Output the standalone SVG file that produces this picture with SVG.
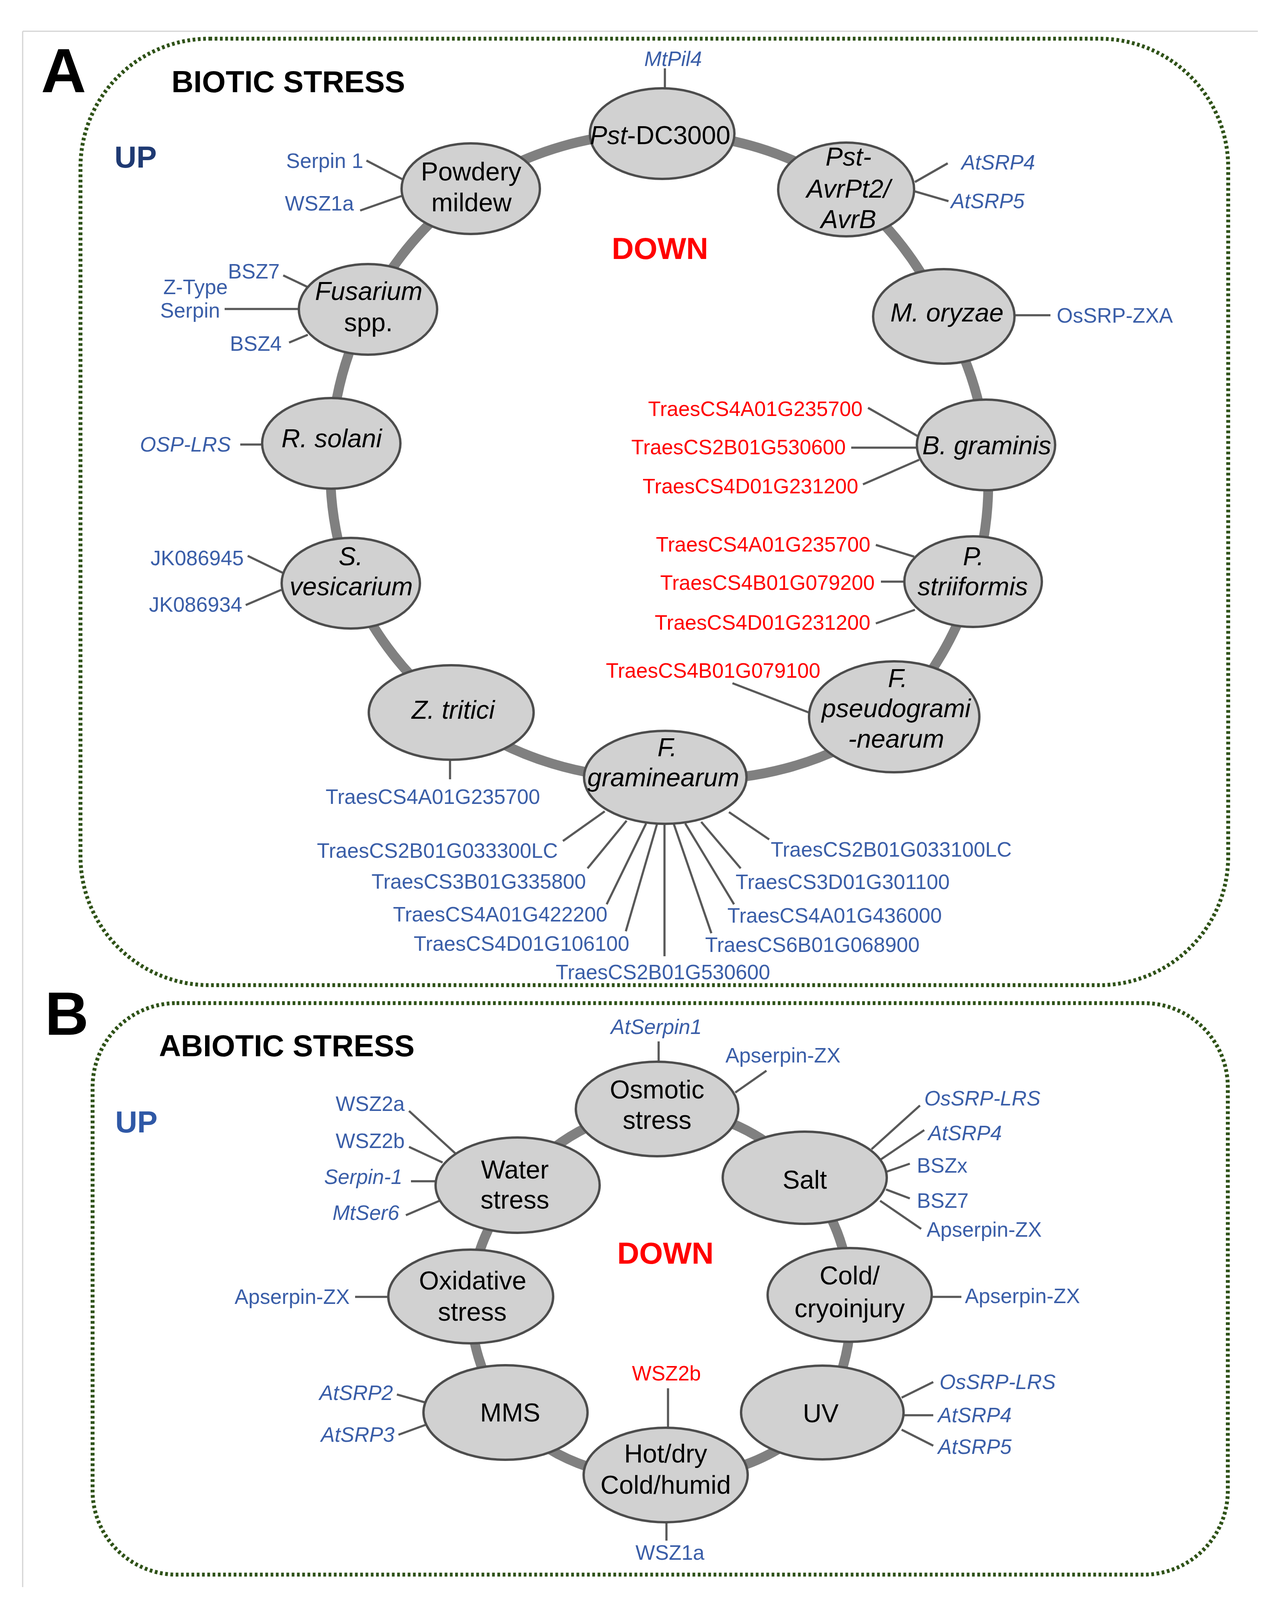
<svg xmlns="http://www.w3.org/2000/svg" width="3251" height="4117" viewBox="0 0 3251 4117">
<style>
text{font-family:"Liberation Sans",Arial,sans-serif}
.frame{fill:none;stroke:#d4d4d4;stroke-width:3}
.panel{fill:none;stroke:#2f5218;stroke-width:10;stroke-dasharray:7 6.5}
.ring{fill:none;stroke:#808080;stroke-width:25}
.node ellipse{fill:#d1d1d1;stroke:#4d4d4d;stroke-width:6}
.nt{font-size:66px;fill:#000;text-anchor:middle}
.it{font-style:italic}
.lk line{stroke:#595959;stroke-width:5.5}
.g{font-size:53px;fill:#3a5ea8}
.r{font-size:53px;fill:#ff0000}
.e{text-anchor:end}
.m{text-anchor:middle}
.big{font-size:160px;font-weight:bold;fill:#000}
.title{font-size:78px;font-weight:bold;fill:#000}
.up{font-size:78px;font-weight:bold}
.down{font-size:78px;font-weight:bold;fill:#ff0000}
</style>
<rect width="3251" height="4117" fill="#ffffff"/>
<g id="frame">
<line class="frame" x1="58" y1="80" x2="3220" y2="80"/>
<line class="frame" x1="58" y1="80" x2="58" y2="4063"/>
</g>
<g id="panel-a-border"><rect class="panel" x="206" y="99" width="2938" height="2423" rx="330" ry="330"/></g>
<g id="panel-b-border"><rect class="panel" x="237" y="2568" width="2906" height="1463" rx="215" ry="215"/></g>
<g id="headings">
<text class="big" x="105" y="236">A</text>
<text class="title" x="439" y="236">BIOTIC STRESS</text>
<text class="up" x="293" y="429" fill="#1f3a73">UP</text>
<text class="down" x="1566" y="663">DOWN</text>
<text class="big" x="115" y="2649" style="font-size:155px">B</text>
<text class="title" x="407" y="2704">ABIOTIC STRESS</text>
<text class="up" x="295" y="2899" fill="#2f58a6">UP</text>
<text class="down" x="1580" y="3235">DOWN</text>
</g>
<g id="connectors">
<path class="ring" d="M1695,342 A840,840 0 0 1 2166,485 A840,840 0 0 1 2416,810 A840,840 0 0 1 2524,1139 A840,840 0 0 1 2491,1489 A840,840 0 0 1 2289,1835 A840,840 0 0 1 1703,1990 A840,840 0 0 1 1155,1824 A840,840 0 0 1 898,1493 A840,840 0 0 1 848,1135 A840,840 0 0 1 942,792 A840,840 0 0 1 1205,483 A840,840 0 0 1 1695,342 Z"/>
<path class="ring" d="M1682,2839 A480,480 0 0 1 2060,3015 A480,480 0 0 1 2175,3315 A480,480 0 0 1 2105,3616 A480,480 0 0 1 1704,3776 A480,480 0 0 1 1294,3616 A480,480 0 0 1 1205,3319 A480,480 0 0 1 1325,3034 A480,480 0 0 1 1682,2839 Z"/>
<g class="lk">
<line x1="1702" y1="175" x2="1702" y2="226"/>
<line x1="2426" y1="418" x2="2342" y2="466"/>
<line x1="2342" y1="490" x2="2428" y2="515"/>
<line x1="2597" y1="807" x2="2689" y2="807"/>
<line x1="938" y1="411" x2="1032" y2="460"/>
<line x1="922" y1="539" x2="1030" y2="501"/>
<line x1="725" y1="705" x2="788" y2="735"/>
<line x1="575" y1="791" x2="765" y2="791"/>
<line x1="740" y1="877" x2="788" y2="857"/>
<line x1="615" y1="1138" x2="671" y2="1138"/>
<line x1="634" y1="1423" x2="725" y2="1467"/>
<line x1="629" y1="1549" x2="720" y2="1510"/>
<line x1="2222" y1="1044" x2="2350" y2="1117"/>
<line x1="2179" y1="1146" x2="2347" y2="1146"/>
<line x1="2209" y1="1240" x2="2353" y2="1177"/>
<line x1="2242" y1="1395" x2="2340" y2="1425"/>
<line x1="2255" y1="1489" x2="2315" y2="1489"/>
<line x1="2242" y1="1596" x2="2342" y2="1561"/>
<line x1="1875" y1="1749" x2="2073" y2="1825"/>
<line x1="1152" y1="1945" x2="1152" y2="1995"/>
<line x1="1441" y1="2153" x2="1548" y2="2077"/>
<line x1="1504" y1="2223" x2="1604" y2="2101"/>
<line x1="1553" y1="2315" x2="1654" y2="2108"/>
<line x1="1602" y1="2384" x2="1682" y2="2109"/>
<line x1="1701" y1="2448" x2="1701" y2="2112"/>
<line x1="1821" y1="2389" x2="1725" y2="2110"/>
<line x1="1879" y1="2315" x2="1754" y2="2108"/>
<line x1="1896" y1="2223" x2="1795" y2="2104"/>
<line x1="1969" y1="2149" x2="1866" y2="2079"/>
<line x1="1686" y1="2666" x2="1686" y2="2718"/>
<line x1="1962" y1="2741" x2="1882" y2="2797"/>
<line x1="1047" y1="2844" x2="1166" y2="2953"/>
<line x1="1047" y1="2936" x2="1133" y2="2976"/>
<line x1="1052" y1="3024" x2="1117" y2="3024"/>
<line x1="1039" y1="3111" x2="1125" y2="3074"/>
<line x1="909" y1="3320" x2="996" y2="3320"/>
<line x1="2355" y1="2830" x2="2231" y2="2942"/>
<line x1="2366" y1="2893" x2="2255" y2="2968"/>
<line x1="2329" y1="2979" x2="2268" y2="3000"/>
<line x1="2329" y1="3068" x2="2268" y2="3045"/>
<line x1="2358" y1="3146" x2="2253" y2="3074"/>
<line x1="2383" y1="3320" x2="2461" y2="3320"/>
<line x1="1710" y1="3554" x2="1710" y2="3656"/>
<line x1="1016" y1="3570" x2="1091" y2="3591"/>
<line x1="1020" y1="3673" x2="1091" y2="3647"/>
<line x1="2389" y1="3538" x2="2308" y2="3578"/>
<line x1="2313" y1="3623" x2="2389" y2="3623"/>
<line x1="2308" y1="3660" x2="2389" y2="3701"/>
<line x1="1706" y1="3897" x2="1706" y2="3944"/>
</g>
</g>
<g id="node-pst-dc3000" class="node"><ellipse cx="1695" cy="342" rx="185" ry="116"/><text class="nt" x="1690" y="369"><tspan class="it">Pst</tspan>-DC3000</text></g>
<g id="node-pst-avr" class="node"><ellipse cx="2166" cy="485" rx="174" ry="120"/><text class="nt it" x="2172" y="424">Pst-</text><text class="nt it" x="2172" y="506">AvrPt2/</text><text class="nt it" x="2172" y="584">AvrB</text></g>
<g id="node-m-oryzae" class="node"><ellipse cx="2416" cy="810" rx="181" ry="121"/><text class="nt it" x="2424" y="823">M. oryzae</text></g>
<g id="node-b-graminis" class="node"><ellipse cx="2524" cy="1139" rx="177" ry="116"/><text class="nt it" x="2526" y="1163">B. graminis</text></g>
<g id="node-p-striiformis" class="node"><ellipse cx="2491" cy="1489" rx="176" ry="116"/><text class="nt it" x="2492" y="1447">P.</text><text class="nt it" x="2490" y="1524">striiformis</text></g>
<g id="node-f-pseudograminearum" class="node"><ellipse cx="2289" cy="1835" rx="218" ry="142"/><text class="nt it" x="2298" y="1759">F.</text><text class="nt it" x="2294" y="1836">pseudogrami</text><text class="nt it" x="2294" y="1914">-nearum</text></g>
<g id="node-f-graminearum" class="node"><ellipse cx="1703" cy="1990" rx="208" ry="119"/><text class="nt it" x="1708" y="1936">F.</text><text class="nt it" x="1698" y="2013">graminearum</text></g>
<g id="node-z-tritici" class="node"><ellipse cx="1155" cy="1824" rx="211" ry="121"/><text class="nt it" x="1160" y="1840">Z. tritici</text></g>
<g id="node-s-vesicarium" class="node"><ellipse cx="898" cy="1493" rx="177" ry="116"/><text class="nt it" x="898" y="1447">S.</text><text class="nt it" x="899" y="1524">vesicarium</text></g>
<g id="node-r-solani" class="node"><ellipse cx="848" cy="1135" rx="177" ry="116"/><text class="nt it" x="849" y="1145">R. solani</text></g>
<g id="node-fusarium" class="node"><ellipse cx="942" cy="792" rx="177" ry="116"/><text class="nt it" x="944" y="768">Fusarium</text><text class="nt" x="943" y="848">spp.</text></g>
<g id="node-powdery-mildew" class="node"><ellipse cx="1205" cy="483" rx="177" ry="116"/><text class="nt" x="1206" y="462">Powdery</text><text class="nt" x="1207" y="541">mildew</text></g>
<g id="node-osmotic" class="node"><ellipse cx="1682" cy="2839" rx="208" ry="121"/><text class="nt" x="1682" y="2812">Osmotic</text><text class="nt" x="1682" y="2890">stress</text></g>
<g id="node-salt" class="node"><ellipse cx="2060" cy="3015" rx="210" ry="118"/><text class="nt" x="2060" y="3043">Salt</text></g>
<g id="node-cold" class="node"><ellipse cx="2175" cy="3315" rx="210" ry="120"/><text class="nt" x="2175" y="3288">Cold/</text><text class="nt" x="2175" y="3372">cryoinjury</text></g>
<g id="node-uv" class="node"><ellipse cx="2105" cy="3616" rx="208" ry="120"/><text class="nt" x="2101" y="3641">UV</text></g>
<g id="node-hot-dry" class="node"><ellipse cx="1704" cy="3776" rx="210" ry="121"/><text class="nt" x="1704" y="3744">Hot/dry</text><text class="nt" x="1704" y="3824">Cold/humid</text></g>
<g id="node-mms" class="node"><ellipse cx="1294" cy="3616" rx="210" ry="121"/><text class="nt" x="1306" y="3639">MMS</text></g>
<g id="node-oxidative" class="node"><ellipse cx="1205" cy="3319" rx="211" ry="120"/><text class="nt" x="1210" y="3301">Oxidative</text><text class="nt" x="1209" y="3381">stress</text></g>
<g id="node-water" class="node"><ellipse cx="1325" cy="3034" rx="210" ry="122"/><text class="nt" x="1318" y="3017">Water</text><text class="nt" x="1318" y="3094">stress</text></g>
<g id="labels-a">
<text class="g it m" x="1723" y="169">MtPil4</text>
<text class="g it" x="2461" y="434">AtSRP4</text>
<text class="g it" x="2434" y="533">AtSRP5</text>
<text class="g" x="2705" y="826">OsSRP-ZXA</text>
<text class="g e" x="930" y="430">Serpin 1</text>
<text class="g e" x="906" y="539">WSZ1a</text>
<text class="g e" x="716" y="713">BSZ7</text>
<text class="g" x="418" y="753">Z-Type</text>
<text class="g" x="410" y="813">Serpin</text>
<text class="g e" x="721" y="898">BSZ4</text>
<text class="g it e" x="591" y="1156">OSP-LRS</text>
<text class="g e" x="624" y="1447">JK086945</text>
<text class="g e" x="620" y="1566">JK086934</text>
<text class="r e" x="2208" y="1065">TraesCS4A01G235700</text>
<text class="r e" x="2165" y="1163">TraesCS2B01G530600</text>
<text class="r e" x="2197" y="1263">TraesCS4D01G231200</text>
<text class="r e" x="2228" y="1412">TraesCS4A01G235700</text>
<text class="r e" x="2239" y="1510">TraesCS4B01G079200</text>
<text class="r e" x="2228" y="1612">TraesCS4D01G231200</text>
<text class="r e" x="2100" y="1735">TraesCS4B01G079100</text>
<text class="g m" x="1108" y="2058">TraesCS4A01G235700</text>
<text class="g e" x="1428" y="2196">TraesCS2B01G033300LC</text>
<text class="g e" x="1500" y="2275">TraesCS3B01G335800</text>
<text class="g e" x="1555" y="2359">TraesCS4A01G422200</text>
<text class="g e" x="1611" y="2434">TraesCS4D01G106100</text>
<text class="g m" x="1697" y="2507">TraesCS2B01G530600</text>
<text class="g" x="1805" y="2437">TraesCS6B01G068900</text>
<text class="g" x="1862" y="2362">TraesCS4A01G436000</text>
<text class="g" x="1883" y="2276">TraesCS3D01G301100</text>
<text class="g" x="1973" y="2193">TraesCS2B01G033100LC</text>
</g>
<g id="labels-b">
<text class="g it m" x="1680" y="2647">AtSerpin1</text>
<text class="g" x="1857" y="2720">Apserpin-ZX</text>
<text class="g e" x="1036" y="2844">WSZ2a</text>
<text class="g e" x="1036" y="2939">WSZ2b</text>
<text class="g it e" x="1030" y="3031">Serpin-1</text>
<text class="g it e" x="1022" y="3123">MtSer6</text>
<text class="g e" x="895" y="3338">Apserpin-ZX</text>
<text class="g it" x="2366" y="2830">OsSRP-LRS</text>
<text class="g it" x="2376" y="2919">AtSRP4</text>
<text class="g" x="2347" y="3002">BSZx</text>
<text class="g" x="2347" y="3092">BSZ7</text>
<text class="g" x="2372" y="3166">Apserpin-ZX</text>
<text class="g" x="2470" y="3336">Apserpin-ZX</text>
<text class="r m" x="1706" y="3534">WSZ2b</text>
<text class="g it e" x="1006" y="3584">AtSRP2</text>
<text class="g it e" x="1010" y="3691">AtSRP3</text>
<text class="g it" x="2405" y="3556">OsSRP-LRS</text>
<text class="g it" x="2401" y="3641">AtSRP4</text>
<text class="g it" x="2401" y="3722">AtSRP5</text>
<text class="g m" x="1715" y="3993">WSZ1a</text>
</g>
</svg>
